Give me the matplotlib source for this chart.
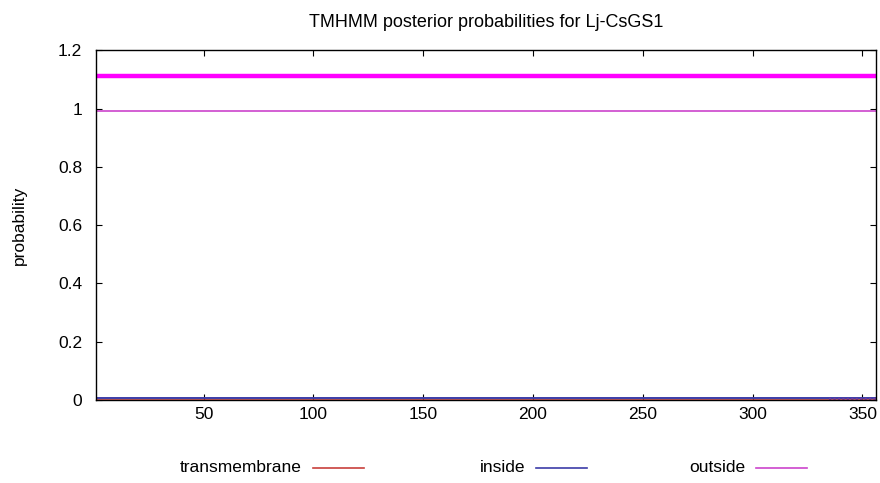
import matplotlib.pyplot as plt
from matplotlib.lines import Line2D

plt.rcParams['font.family'] = ['Liberation Sans', 'DejaVu Sans']

# sequence length and predicted topology (whole chain outside)
seq_start = 1
seq_end = 356
region_pos = [1, 356]
region_level = [1.11, 1.11]

# posterior probabilities along the sequence (flat)
positions = [1, 356]
outside_prob = [0.99, 0.99]
inside_prob = [0.005, 0.005]
tm_prob = [0.0, 0.0]
# faint dotted tail at the C-terminus
tail_pos = [335, 356]
tail_prob = [0.003, 0.003]

yticks = [0, 0.2, 0.4, 0.6, 0.8, 1, 1.2]
ytick_labels = ["0", "0.2", "0.4", "0.6", "0.8", "1", "1.2"]
xticks = [50, 100, 150, 200, 250, 300, 350]
legend_names = ["transmembrane", "inside", "outside"]

c_tm = "#c8403c"
c_in = "#3c3ca8"
c_out = "#cc44cc"
c_region = "#ff00ff"

fig = plt.figure(figsize=(8.8, 4.83), dpi=100)
ax = fig.add_axes([0.109, 0.172, 0.886, 0.724])

ax.plot(region_pos, region_level, color=c_region, lw=3.2, solid_capstyle="butt")
ax.plot(positions, outside_prob, color=c_out, lw=1.2)
ax.plot(positions, tm_prob, color=c_tm, lw=1.2)
ax.plot(positions, inside_prob, color=c_in, lw=1.4)
ax.plot(tail_pos, tail_prob, color="#7a3c9a", lw=1.6, ls=(0, (1, 1)))

ax.set_xlim(seq_start, seq_end)
ax.set_ylim(0, 1.2)
ax.set_xticks(xticks)
ax.set_yticks(yticks)
ax.set_yticklabels(ytick_labels)
ax.tick_params(axis="both", direction="in", top=True, right=True, labelsize=12.5,
               length=4, colors="black")
ax.tick_params(axis="y", pad=10)
ax.tick_params(axis="x", pad=5)
ax.set_ylabel("probability", fontsize=12.5, labelpad=22)
ax.set_title("TMHMM posterior probabilities for Lj-CsGS1", fontsize=13, pad=17)
for s in ax.spines.values():
    s.set_linewidth(1.0)

# gnuplot-style key: right-aligned text followed by a line sample
key_colors = [c_tm, c_in, c_out]
key_line_end = [364, 587, 807]
for name, col, xe in zip(legend_names, key_colors, key_line_end):
    y = 1 - 468 / 483
    fig.text((xe - 62) / 880, y, name, ha="right", va="center", fontsize=12.5)
    fig.add_artist(Line2D([(xe - 51) / 880, xe / 880], [y, y], color=col, lw=1.2,
                          transform=fig.transFigure))

fig.savefig("out.png", dpi=100)
